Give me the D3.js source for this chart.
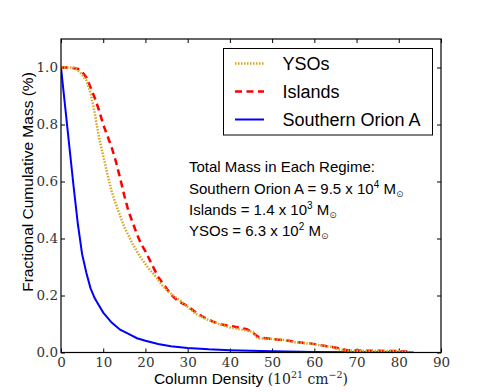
<!DOCTYPE html>
<html>
<head>
<meta charset="utf-8">
<script src="https://cdn.jsdelivr.net/npm/d3@7.9.0/dist/d3.min.js"></script>
<style>
  body { margin: 0; background: #fff; }
  .sans { font-family: "Liberation Sans", Arial, sans-serif; fill: #000; }
</style>
</head>
<body>
<svg id="chart" width="491" height="392"></svg>
<script>
// cumulative mass curves: [column density, fraction]
const ysos = [[0,1.0],[3,1.0],[4,0.99],[5,0.975],[6,0.955],[7,0.91],[8,0.84],[9,0.755],[10,0.69],
  [11,0.625],[12,0.565],[13,0.52],[14,0.48],[15,0.44],[16,0.41],[17,0.38],[18,0.355],[19,0.33],
  [20,0.31],[21,0.29],[22,0.275],[23,0.255],[24,0.235],[25,0.22],[27,0.195],[29,0.173],[30,0.16],
  [32,0.135],[34,0.12],[36,0.108],[38,0.097],[40,0.088],[42,0.082],[44,0.077],[45.5,0.072],
  [46.5,0.05],[50,0.047],[53,0.044],[55,0.036],[58,0.032],[60,0.029],[62,0.024],[64,0.02],
  [65.5,0.012],[67,0.008],[70,0.006],[75,0.005],[79.5,0.005],[81,0.002],[83,0]];
const islands = [[0,1.0],[2,1.0],[4,0.995],[5,0.985],[6,0.965],[7,0.93],[8,0.893],[9,0.85],[10,0.80],
  [11,0.76],[12,0.72],[13,0.67],[14,0.612],[15,0.55],[16,0.495],[17,0.455],[18,0.415],[19,0.38],
  [20,0.355],[21,0.325],[22,0.295],[23,0.265],[24,0.245],[25,0.225],[26,0.205],[27,0.19],[28,0.178],
  [30,0.163],[32,0.14],[34,0.122],[36,0.108],[38,0.098],[40,0.094],[42,0.088],[44,0.082],[45.5,0.068],
  [47,0.052],[51,0.046],[54,0.041],[56,0.036],[59,0.032],[61,0.027],[63,0.022],[65.5,0.016],
  [67.5,0.009],[70,0.007],[75,0.006],[80,0.005],[82,0.003],[83,0]];
const orion = [[0,1.0],[1,0.86],[2,0.72],[3,0.58],[4,0.45],[5,0.345],[6,0.28],[7,0.225],[8,0.19],
  [9,0.165],[10,0.14],[12,0.105],[14,0.08],[16,0.065],[18,0.05],[20,0.041],[23,0.03],[26,0.022],
  [30,0.016],[35,0.011],[40,0.008],[50,0.004],[60,0.002],[70,0.001],[80,0.0005],[83.5,0]];

const seriesNames = ["YSOs", "Islands", "Southern Orion A"];
const seriesColors = ["#DAA520", "#ff0000", "#0000ff"];
const massLines = ["Southern Orion A = 9.5 x 10", "Islands = 1.4 x 10", "YSOs = 6.3 x 10"];
const massExps = ["4", "3", "2"];
const xTicks = d3.range(0, 91, 10);
const yTicks = [0, 0.2, 0.4, 0.6, 0.8, 1.0];

const serifFont = '"DejaVu Serif", "Liberation Serif", serif';
const margin = { left: 61, right: 50, top: 39, bottom: 39.5 };
const width = 491, height = 392;
const svg = d3.select("#chart");

const x = d3.scaleLinear().domain([0, 90]).range([margin.left, width - margin.right]);
const y = d3.scaleLinear().domain([0, 1.1]).range([height - margin.bottom, margin.top]);

// axes with inward ticks on all four sides
svg.append("g").attr("transform", `translate(0,${y(0)})`)
  .call(d3.axisBottom(x).tickValues(xTicks).tickFormat(d3.format("d")).tickSizeInner(-4).tickSizeOuter(0).tickPadding(5))
  .call(g => g.select(".domain").remove());
svg.append("g").attr("transform", `translate(${x(0)},0)`)
  .call(d3.axisLeft(y).tickValues(yTicks).tickFormat(d3.format(".1f")).tickSizeInner(-4).tickSizeOuter(0).tickPadding(3))
  .call(g => g.select(".domain").remove());
svg.append("g").attr("transform", `translate(0,${y(1.1)})`)
  .call(d3.axisTop(x).tickValues(xTicks).tickFormat("").tickSizeInner(-4).tickSizeOuter(0))
  .call(g => g.select(".domain").remove());
svg.append("g").attr("transform", `translate(${x(90)},0)`)
  .call(d3.axisRight(y).tickValues(yTicks).tickFormat("").tickSizeInner(-4).tickSizeOuter(0))
  .call(g => g.select(".domain").remove());
svg.selectAll(".tick line").attr("stroke", "#000");
svg.selectAll(".tick text")
  .style("font-family", serifFont)
  .style("font-size", "13.5px")
  .attr("fill", "#333");

// curves
const line = d3.line().x(d => x(d[0])).y(d => y(d[1]));
svg.append("clipPath").attr("id", "plotclip").append("rect")
  .attr("x", x(0)).attr("y", y(1.1)).attr("width", x(90) - x(0)).attr("height", y(0) - y(1.1));
const styles = [
  { dash: "1.5,1.5", w: 2.5 },
  { dash: "7,4.5", w: 2.5 },
  { dash: null, w: 2 }
];
[orion, islands, ysos].forEach((data, ri) => {
  const i = 2 - ri;
  svg.append("path").datum(data)
    .attr("d", line)
    .attr("fill", "none")
    .attr("stroke", seriesColors[i])
    .attr("stroke-width", styles[i].w)
    .attr("stroke-dasharray", styles[i].dash)
    .attr("clip-path", "url(#plotclip)");
});

// frame
svg.append("rect")
  .attr("x", x(0)).attr("y", y(1.1))
  .attr("width", x(90) - x(0)).attr("height", y(0) - y(1.1))
  .attr("fill", "none").attr("stroke", "#000").attr("stroke-width", 1.2);

// legend
const legend = svg.append("g");
legend.append("rect").attr("x", 223.5).attr("y", 48.5).attr("width", 209).attr("height", 86.5)
  .attr("fill", "#fff").attr("stroke", "#000").attr("stroke-width", 1);
seriesNames.forEach((name, i) => {
  const ly = 63.5 + i * 28;
  legend.append("line").attr("x1", 235).attr("x2", 264).attr("y1", ly).attr("y2", ly)
    .attr("stroke", seriesColors[i]).attr("stroke-width", styles[i].w)
    .attr("stroke-dasharray", styles[i].dash);
  legend.append("text").attr("class", "sans").attr("x", 282.5).attr("y", ly + 6.5)
    .attr("font-size", 18).text(name);
});

// total mass note
const note = svg.append("text").attr("class", "sans").attr("font-size", 15);
note.append("tspan").attr("x", 189).attr("y", 172.3).text("Total Mass in Each Regime:");
massLines.forEach((t, i) => {
  const ty = 193.5 + i * 21.2;
  const row = svg.append("text").attr("class", "sans").attr("font-size", 15).attr("x", 189).attr("y", ty);
  row.append("tspan").text(t);
  row.append("tspan").attr("font-size", 10).attr("dy", -6).text(massExps[i]);
  row.append("tspan").attr("dy", 6).text(" M");
  row.append("tspan").attr("font-size", 9).attr("dy", 3)
    .attr("font-family", "DejaVu Sans").attr("fill", "#333").text("\u2299");
});

// axis titles
const xl = svg.append("text").attr("x", x(45)).attr("y", 384).attr("text-anchor", "middle");
xl.append("tspan").attr("class", "sans").attr("font-size", 15.5).text("Column Density ");
const mathPart = [["(10", 14, 0], ["21", 9.5, -6], [" cm", 14, 6], ["\u22122", 9.5, -6], [")", 14, 6]];
mathPart.forEach(([t, fs, dy]) => {
  xl.append("tspan").style("font-family", serifFont).attr("fill", "#222")
    .attr("font-size", fs).attr("dy", dy).text(t);
});

svg.append("text").attr("class", "sans").attr("font-size", 15.5)
  .attr("text-anchor", "middle")
  .attr("transform", `translate(33,182) rotate(-90)`)
  .text("Fractional Cumulative Mass (%)");
</script>
</body>
</html>
